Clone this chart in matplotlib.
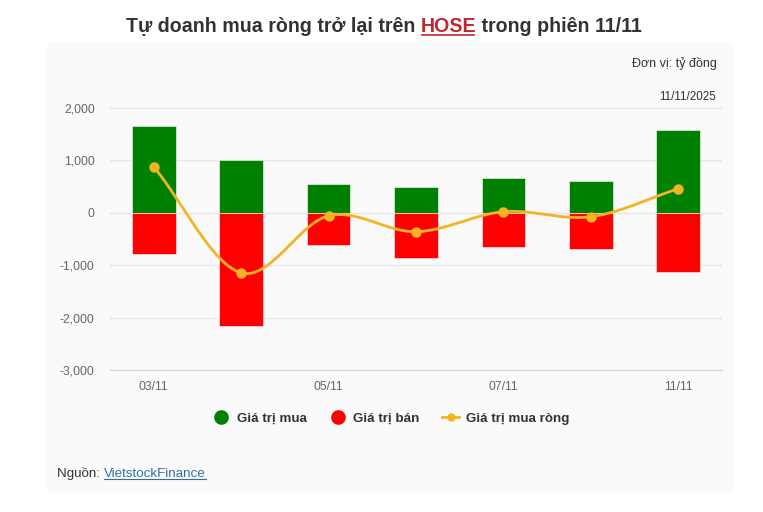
import numpy as np
import matplotlib.pyplot as plt
from matplotlib.lines import Line2D

plt.rcParams['font.family'] = ['Liberation Sans', 'DejaVu Sans']

# dữ liệu (tỷ đồng)
days = ['03/11', '04/11', '05/11', '06/11', '07/11', '10/11', '11/11']
tick_labels = ['03/11', '', '05/11', '', '07/11', '', '11/11']
buy_values = [1660, 1010, 553, 496, 668, 610, 1584]
sell_values = [-782, -2156, -611, -859, -649, -687, -1126]
net_values = [878, -1146, -58, -363, 19, -77, 458]

green = '#008000'
red = '#ff0000'
orange = '#f5b324'


def smooth_curve(xs, ys, n=40):
    # đường cong kiểu Catmull-Rom đi qua các điểm (chỉ để vẽ)
    xs = np.asarray(xs, float)
    ys = np.asarray(ys, float)
    px = np.concatenate([[2 * xs[0] - xs[1]], xs, [2 * xs[-1] - xs[-2]]])
    py = np.concatenate([[2 * ys[0] - ys[1]], ys, [2 * ys[-1] - ys[-2]]])
    out_x, out_y = [], []
    for i in range(1, len(px) - 2):
        t = np.linspace(0, 1, n)
        t2, t3 = t * t, t * t * t
        for p, out in ((px, out_x), (py, out_y)):
            p0, p1, p2, p3 = p[i - 1], p[i], p[i + 1], p[i + 2]
            out.extend(0.5 * (2 * p1 + (-p0 + p2) * t + (2 * p0 - 5 * p1 + 4 * p2 - p3) * t2
                              + (-p0 + 3 * p1 - 3 * p2 + p3) * t3))
    return out_x, out_y


fig = plt.figure(figsize=(7.63, 5.12), dpi=100)
fig.patch.set_facecolor('white')

# nền xám nhạt của khung
bg = plt.Rectangle((47 / 763, 1 - 493 / 512), (733 - 47) / 763, (493 - 42) / 512,
                   transform=fig.transFigure, facecolor='#fafafa', edgecolor='none', zorder=-5)
fig.patches.append(bg)

ax = fig.add_axes([110 / 763, 1 - 370 / 512, (722 - 110) / 763, (370 - 100) / 512])
ax.set_facecolor('none')
ax.set_zorder(2)

x = np.arange(len(days))
ax.bar(x, buy_values, width=0.5, color=green, edgecolor='white', linewidth=0.4, zorder=2)
ax.bar(x, sell_values, width=0.5, color=red, edgecolor='white', linewidth=0.4, zorder=2)

cx, cy = smooth_curve(x, net_values)
ax.plot(cx, cy, color=orange, linewidth=2, zorder=3)
ax.plot(x, net_values, 'o', color=orange, markersize=6.5, zorder=4)

ax.set_xlim(-0.5, len(days) - 0.5)
ax.set_ylim(-3000, 2150)
ax.set_yticks([-3000, -2000, -1000, 0, 1000, 2000])
ax.set_yticklabels([f'{v:,}' for v in [-3000, -2000, -1000, 0, 1000, 2000]])
ax.set_xticks(x)
ax.set_xticklabels(tick_labels)
ax.grid(axis='y', color='#e6e6e6', linewidth=1, zorder=0)
ax.set_axisbelow(True)
for side in ['top', 'right', 'left']:
    ax.spines[side].set_visible(False)
ax.spines['bottom'].set_color('#ccd6eb')
ax.spines['bottom'].set_position(('data', -3000))
ax.tick_params(axis='both', length=0, colors='#666666', labelsize=8.8)
ax.tick_params(axis='y', pad=11)
ax.tick_params(axis='x', pad=8)

# tiêu đề nhiều màu
fig.canvas.draw()
renderer = fig.canvas.get_renderer()
title_parts = [('Tự doanh mua ròng trở lại trên ', '#333333'),
               ('HOSE', '#c0282d'),
               (' trong phiên 11/11', '#333333')]
texts = []
for s, c in title_parts:
    t = fig.text(0, 1 - 26 / 512, s, color=c, fontsize=14.1, fontweight='bold', va='center')
    texts.append(t)
widths = [t.get_window_extent(renderer).width for t in texts]
start = 384 - sum(widths) / 2
pos = start
for t, w in zip(texts, widths):
    t.set_x(pos / 763)
    pos += w
hb = texts[1].get_window_extent(renderer)
fig.add_artist(Line2D([(hb.x0 + 1) / 763, (hb.x1 - 2) / 763], [(hb.y0 + 1) / 512] * 2,
                      color='#c0282d', linewidth=1.2, transform=fig.transFigure))

fig.text(717 / 763, 1 - 64 / 512, 'Đơn vị: tỷ đồng', ha='right', va='center', fontsize=9, color='#333333')
fig.text(716 / 763, 1 - 97 / 512, '11/11/2025', ha='right', va='center', fontsize=8.4, color='#333333')

# chú thích
handles = [Line2D([], [], marker='o', linestyle='none', color=green, markersize=9.5),
           Line2D([], [], marker='o', linestyle='none', color=red, markersize=9.5),
           Line2D([], [], marker='o', linestyle='-', color=orange, markersize=5, linewidth=2)]
leg = fig.legend(handles, ['Giá trị mua', 'Giá trị bán', 'Giá trị mua ròng'],
                 loc='center', bbox_to_anchor=(391 / 763, 1 - 419 / 512), ncol=3, frameon=False,
                 handlelength=1.3, handletextpad=0.5, columnspacing=1.7,
                 prop={'weight': 'bold', 'size': 9.6})
for t in leg.get_texts():
    t.set_color('#333333')

# nguồn
src1 = fig.text(57 / 763, 1 - 474 / 512, 'Nguồn: ', fontsize=9.6, color='#333333', va='center')
fig.canvas.draw()
b1 = src1.get_window_extent(renderer)
src2 = fig.text(b1.x1 / 763, 1 - 474 / 512, 'VietstockFinance', fontsize=9.6, color='#2f6fa7', va='center')
b2 = src2.get_window_extent(renderer)
fig.add_artist(Line2D([b2.x0 / 763, b2.x1 / 763], [(b2.y0 + 1) / 512] * 2,
                      color='#2f6fa7', linewidth=0.8, transform=fig.transFigure))

fig.savefig('out.png', dpi=100)
